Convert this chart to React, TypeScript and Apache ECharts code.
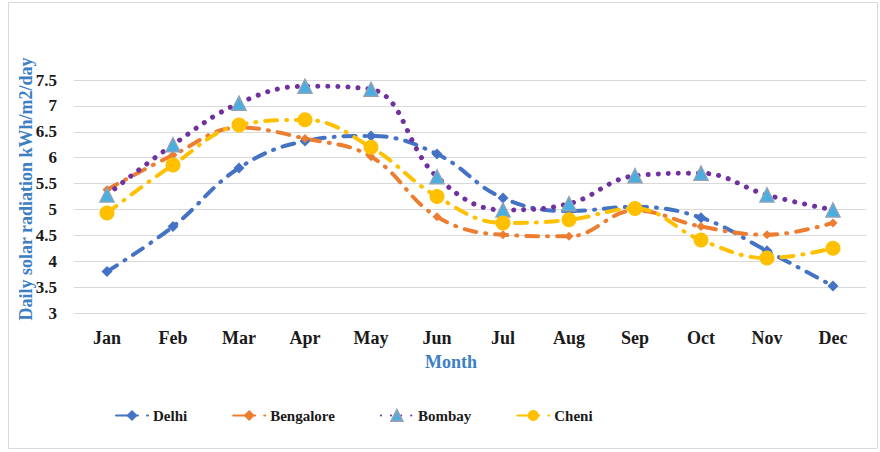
import React, { useEffect, useRef } from "react";
import * as echarts from "echarts";

const months = ["Jan", "Feb", "Mar", "Apr", "May", "Jun", "Jul", "Aug", "Sep", "Oct", "Nov", "Dec"];
const delhi = [3.8, 4.67, 5.8, 6.32, 6.42, 6.07, 5.22, 4.97, 5.05, 4.84, 4.2, 3.52];
const bengalore = [5.38, 6.05, 6.58, 6.37, 6.02, 4.86, 4.51, 4.48, 4.98, 4.67, 4.51, 4.74];
const bombay = [5.28, 6.25, 7.05, 7.38, 7.32, 5.63, 4.99, 5.11, 5.65, 5.7, 5.28, 4.99];
const cheni = [4.93, 5.86, 6.63, 6.73, 6.2, 5.25, 4.74, 4.8, 5.02, 4.41, 4.06, 4.25];

const FONT = "'Liberation Serif', 'Times New Roman', serif";
const BLUE_TITLE = "#3d7fc4";

export default function App() {
  const ref = useRef<HTMLDivElement>(null);

  useEffect(() => {
    document.body.style.margin = "0";
    const chart = echarts.init(ref.current!, null, { renderer: "svg" });
    const base = { type: "line", smooth: 0.4, z: 2 };
    chart.setOption({
      animation: false,
      backgroundColor: "#ffffff",
      textStyle: { fontFamily: FONT },
      grid: { left: 74, right: 14, top: 80, bottom: 139 },
      xAxis: {
        type: "category",
        data: months,
        boundaryGap: true,
        axisLine: { show: false },
        axisTick: { show: false },
        axisLabel: { margin: 16, color: "#1a1a1a", fontWeight: "bold", fontSize: 18, fontFamily: FONT },
      },
      yAxis: {
        type: "value",
        min: 3,
        max: 7.5,
        interval: 0.5,
        axisLine: { show: false },
        axisTick: { show: false },
        axisLabel: { margin: 17, color: "#1a1a1a", fontWeight: "bold", fontSize: 17, fontFamily: FONT },
        splitLine: { lineStyle: { color: "#d9d9d9", width: 1 } },
      },
      legend: {
        left: 110,
        top: 403,
        itemWidth: 32,
        itemHeight: 14,
        itemGap: 45,
        textStyle: { color: "#1a1a1a", fontWeight: "bold", fontSize: 15, fontFamily: FONT },
        data: ["Delhi", "Bengalore", "Bombay", "Cheni"],
      },
      graphic: [
        {
          type: "rect",
          shape: { x: 8.5, y: 2.5, width: 869, height: 446 },
          style: { fill: "none", stroke: "#d9d9d9", lineWidth: 1 },
          silent: true,
        },
        {
          type: "text",
          x: 26,
          y: 189,
          rotation: Math.PI / 2,
          style: {
            text: "Daily solar radiation kWh/m2/day",
            fill: BLUE_TITLE,
            font: `bold 18px ${FONT}`,
            align: "center",
            verticalAlign: "middle",
          },
        },
        {
          type: "text",
          x: 451,
          y: 362,
          style: {
            text: "Month",
            fill: BLUE_TITLE,
            font: `bold 18px ${FONT}`,
            align: "center",
            verticalAlign: "middle",
          },
        },
      ],
      series: [
        {
          ...base,
          name: "Delhi",
          data: delhi,
          symbol: "diamond",
          symbolSize: 11,
          itemStyle: { color: "#4472c4" },
          lineStyle: { color: "#4472c4", width: 4, type: [12, 9, 1, 9], cap: "round" },
        },
        {
          ...base,
          name: "Bengalore",
          data: bengalore,
          symbol: "diamond",
          symbolSize: 9,
          itemStyle: { color: "#ed7d31" },
          lineStyle: { color: "#ed7d31", width: 4, type: [12, 9, 1, 9], cap: "round" },
        },
        {
          ...base,
          name: "Bombay",
          data: bombay,
          symbol: "triangle",
          symbolSize: 14,
          itemStyle: { color: "#49aee0", borderColor: "#8fa3b8", borderWidth: 1.5 },
          lineStyle: { color: "#7030a0", width: 5, type: [0.1, 10], cap: "round" },
        },
        {
          ...base,
          name: "Cheni",
          data: cheni,
          symbol: "circle",
          symbolSize: 15,
          itemStyle: { color: "#ffc000" },
          lineStyle: { color: "#ffc000", width: 4, type: [12, 9, 1, 9], cap: "round" },
        },
      ],
    });
    return () => chart.dispose();
  }, []);

  return <div ref={ref} style={{ width: 880, height: 452 }} />;
}
